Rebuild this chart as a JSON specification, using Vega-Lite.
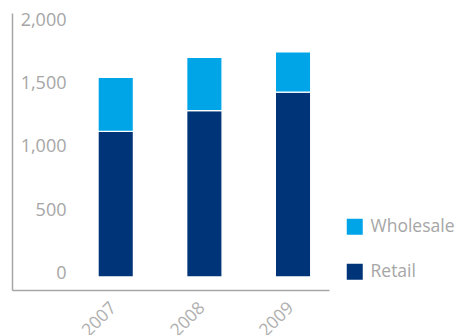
{
  "$schema": "https://vega.github.io/schema/vega-lite/v6.json",
  "autosize": "none",
  "width": 317,
  "height": 277,
  "padding": {"left": 12, "top": 13, "right": 127, "bottom": 45},
  "config": {
    "view": {"stroke": null},
    "font": "Open Sans"
  },
  "data": {
    "values": [
      {"year": "2007", "type": "Retail", "value": 1156},
      {"year": "2007", "type": "Wholesale", "value": 429},
      {"year": "2008", "type": "Retail", "value": 1320},
      {"year": "2008", "type": "Wholesale", "value": 424},
      {"year": "2009", "type": "Retail", "value": 1467},
      {"year": "2009", "type": "Wholesale", "value": 321}
    ]
  },
  "mark": {"type": "bar", "stroke": "white", "strokeWidth": 1.4},
  "encoding": {
    "x": {
      "field": "year",
      "type": "nominal",
      "scale": {"paddingInner": 0.6, "paddingOuter": 0.588, "align": 0.825},
      "axis": {
        "title": null,
        "labelAngle": -45,
        "labelAlign": "right",
        "labelBaseline": "middle",
        "labelColor": "#b0b0b0",
        "labelFontSize": 17.5,
        "ticks": false,
        "labelPadding": 15,
        "labelOffset": -2,
        "domainColor": "#a6a6a6",
        "domainWidth": 1.5
      }
    },
    "y": {
      "field": "value",
      "type": "quantitative",
      "stack": "zero",
      "scale": {"domain": [-103, 2095], "nice": false, "zero": false},
      "axis": {
        "title": null,
        "values": [0, 500, 1000, 1500, 2000],
        "format": ",d",
        "grid": false,
        "ticks": false,
        "labelPadding": -54,
        "labelOffset": -4,
        "labelColor": "#a6a6a6",
        "labelFontSize": 18,
        "domainColor": "#a6a6a6",
        "domainWidth": 1.5
      }
    },
    "color": {
      "field": "type",
      "type": "nominal",
      "scale": {"domain": ["Wholesale", "Retail"], "range": ["#00a5e8", "#003479"]},
      "legend": {
        "title": null,
        "orient": "none",
        "legendX": 334,
        "legendY": 205,
        "symbolType": "square",
        "symbolSize": 256,
        "symbolStrokeWidth": 0,
        "labelFontSize": 17.5,
        "labelColor": "#a6a6a6",
        "labelOffset": 7,
        "rowPadding": 26
      }
    },
    "order": {"field": "type", "sort": "ascending"}
  }
}
